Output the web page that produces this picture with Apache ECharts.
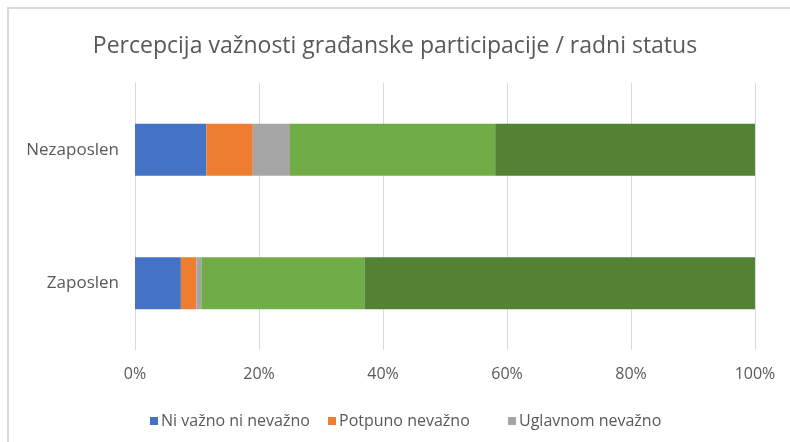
<!DOCTYPE html>
<html>
<head>
<meta charset="utf-8">
<script src="https://cdn.jsdelivr.net/npm/echarts@6/dist/echarts.min.js"></script>
<style>
  html, body { margin: 0; padding: 0; background: #fff; }
  #chart { width: 790px; height: 442px; }
</style>
</head>
<body>
<div id="chart"></div>
<script>
// Work status groups (bottom to top on the category axis)
const categories = ['Zaposlen', 'Nezaposlen'];

// Share of respondents per answer, in percent
const niVaznoNiNevazno = [7.4, 11.5];
const potpunoNevazno   = [2.5, 7.5];
const uglavnomNevazno  = [0.8, 6.0];
const uglavnomVazno    = [26.3, 33.1];
const vrloVazno        = [63.0, 41.9];

const tickLabels = ['0%', '20%', '40%', '60%', '80%', '100%'];

const seriesDefs = [
  { name: 'Ni važno ni nevažno', data: niVaznoNiNevazno, color: '#4472C4' },
  { name: 'Potpuno nevažno',     data: potpunoNevazno,   color: '#ED7D31' },
  { name: 'Uglavnom nevažno',    data: uglavnomNevazno,  color: '#A5A5A5' },
  { name: 'Uglavnom važno',      data: uglavnomVazno,    color: '#70AD47' },
  { name: 'Vrlo važno',          data: vrloVazno,        color: '#548235' }
];

const FONT = '"Open Sans", sans-serif';
const TEXT = '#595959';
const chart = echarts.init(document.getElementById('chart'));

// One legend entry per component so each sits at its own x position
const legendLefts = [145, 323, 503];
const legends = seriesDefs.slice(0, 3).map((s, i) => ({
  data: [s.name],
  left: legendLefts[i],
  top: 408,
  itemWidth: 8,
  itemHeight: 8,
  itemGap: 0,
  icon: 'rect',
  textStyle: { fontFamily: FONT, fontSize: 16, color: TEXT, padding: [0, 0, 0, -2] }
}));

chart.setOption({
  animation: false,
  backgroundColor: '#fff',
  title: {
    text: 'Percepcija važnosti građanske participacije / radni status',
    left: 'center',
    top: 30,
    textStyle: { fontFamily: FONT, fontSize: 23, fontWeight: 'normal', color: TEXT }
  },
  graphic: [{
    type: 'rect',
    shape: { x: 8, y: 8, width: 800, height: 460 },
    style: { fill: 'none', stroke: '#d9d9d9', lineWidth: 2 },
    silent: true
  }],
  legend: legends,
  grid: { left: 135, right: 35, top: 83, bottom: 92, containLabel: false },
  xAxis: {
    type: 'value',
    min: 0,
    max: 100,
    interval: 20,
    axisLine: { show: false },
    axisTick: { show: false },
    splitLine: { lineStyle: { color: '#d9d9d9', width: 1 } },
    axisLabel: {
      margin: 16,
      fontFamily: FONT, fontSize: 16, color: TEXT,
      formatter: v => tickLabels[Math.round(v / 20)]
    }
  },
  yAxis: {
    type: 'category',
    data: categories,
    axisLine: { show: true, lineStyle: { color: '#d9d9d9', width: 1 } },
    axisTick: { show: false },
    axisLabel: { margin: 16, fontFamily: FONT, fontSize: 17, color: TEXT }
  },
  series: seriesDefs.map(s => ({
    type: 'bar',
    name: s.name,
    stack: 'total',
    data: s.data,
    barWidth: '39%',
    itemStyle: { color: s.color },
    emphasis: { disabled: true }
  }))
});
</script>
</body>
</html>
